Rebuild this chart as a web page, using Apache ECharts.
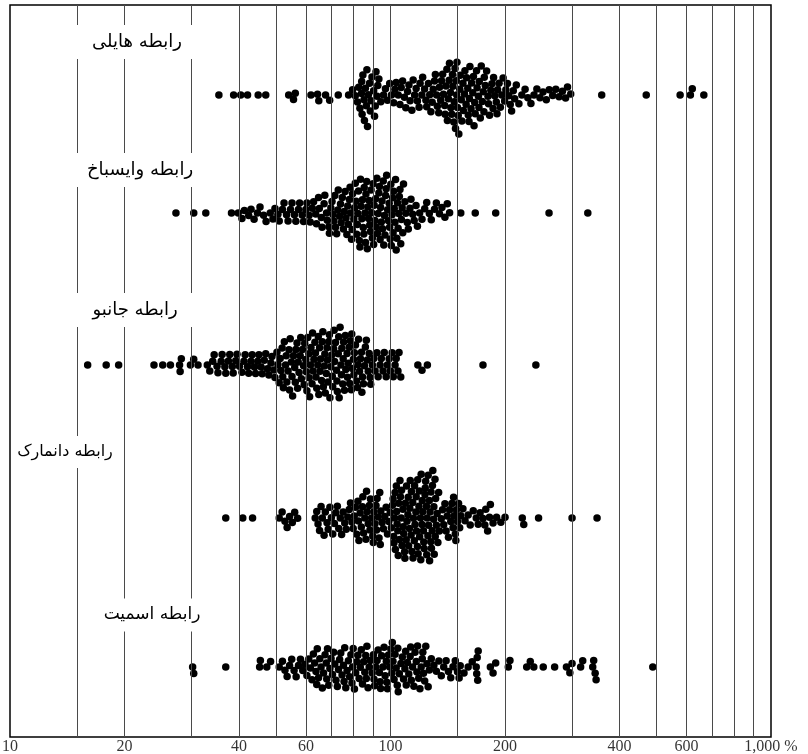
<!DOCTYPE html>
<html>
<head>
<meta charset="utf-8">
<script src="https://cdn.jsdelivr.net/npm/echarts@6/dist/echarts.min.js"></script>
<style>
html,body{margin:0;padding:0;background:#fff}
#chart{width:808px;height:754px}
</style>
</head>
<body>
<div id="chart"></div>
<script>
// Relation names, one per row (top to bottom)
const ROW_NAMES = ['رابطه هایلی', 'رابطه وایسباخ', 'رابطه جانبو', 'رابطه دانمارک', 'رابطه اسمیت'];

// Ratio values (%) for each relation
const HAILEY = [
  35.4, 38.7, 40.4, 42.1, 44.9, 47.0, 54.0, 55.6, 56.2,
  61.8, 64.3, 64.8, 67.5, 69.2,
  72.9, 77.6, 79.5, 80.8, 81.9,
  82.5, 83.1, 83.9, 84.0, 84.2, 84.6, 85.2, 85.4, 85.9, 86.4, 86.7, 87.0, 87.5, 88.1, 88.5, 88.9, 89.4, 90.3,
  90.8, 91.2, 91.6, 92.2, 92.6, 93.2,
  94.3, 95.9, 97.0, 98.2, 99.5, 100.6, 101.9, 102.7,
  103.5, 104.8, 105.9, 106.7, 107.6, 108.8, 109.7, 110.9, 111.8, 112.6, 113.8, 114.7,
  115.7, 116.8, 117.7, 118.9, 119.6, 120.9, 121.5, 122.9, 123.9, 124.5, 125.8, 126.8, 127.7, 128.7,
  129.5, 130.5, 131.2, 132.2, 132.8, 133.9, 134.5, 135.5, 136.2, 137.1, 137.8, 138.8,
  139.2, 139.9, 140.7, 141.1, 141.9, 142.6, 142.9, 143.8, 144.1, 144.9, 145.5, 145.9, 146.7, 147.0, 147.8, 148.2, 148.9, 149.3, 149.5, 150.0,
  150.7, 151.2, 152.1, 152.5, 153.5, 154.0, 155.0, 155.4, 156.5, 156.9, 158.0, 158.5, 159.6, 160.1, 160.8, 161.2, 161.7,
  162.8, 163.4, 164.5, 165.2, 165.8, 166.4, 167.0, 168.3, 168.9, 170.2, 170.8, 171.1, 172.2, 173.2, 174.3, 175.3, 176.0, 176.4, 177.5,
  178.9, 180.4, 181.0, 182.1, 183.5, 184.8, 186.0, 186.6, 187.9, 189.7, 190.5, 191.2, 192.9, 194.4, 196.1, 197.7, 199.5, 201.0, 202.9,
  204.6, 206.4, 208.1, 210.2, 212.0, 214.1,
  217.5, 221.4, 225.8, 229.6, 233.9, 238.3, 242.5, 247.1, 251.6, 256.7, 261.3, 266.8, 271.9, 277.4, 283.0, 288.5, 291.9, 297.6,
  359, 470, 577, 614, 621, 666
];

const WEISBACH = [
  27.3, 30.4, 32.7, 38.2,
  39.8, 40.7, 41.3, 42.4, 43.0, 43.8, 44.7, 45.4, 46.4, 47.1,
  48.3, 49.1, 49.7, 50.6, 51.0, 52.0, 52.5, 53.3, 53.8, 54.6, 55.1, 55.9, 56.4, 57.3, 57.7, 58.6, 59.1, 59.9, 60.3, 61.1, 61.5, 62.3,
  62.8, 63.6, 63.9, 64.7, 65.0, 65.8, 66.1, 66.9, 67.2, 67.9, 68.2, 68.9, 69.1, 69.7,
  70.2, 70.6, 71.0, 71.4, 71.7, 72.2, 72.7, 72.9, 73.5, 73.9, 74.2, 74.7, 75.2, 75.6, 76.0, 76.4, 76.8, 77.2, 77.5, 78.0,
  78.3, 78.6, 79.0, 79.3, 79.5, 80.1,
  80.5, 80.8, 81.2, 81.5, 81.8, 82.1, 82.4, 82.8, 83.1, 83.4, 83.7, 84.1, 84.4, 84.8, 85.1, 85.3, 85.7, 86.0, 86.2, 86.6,
  86.9, 87.2, 87.6, 87.9, 88.2, 88.6, 88.9,
  89.2, 89.6, 90.0, 90.3, 90.6, 91.0, 91.4, 91.7, 92.1, 92.4, 92.8, 93.2, 93.5, 93.9, 94.2, 94.6, 95.0, 95.3, 95.7, 96.0,
  96.4, 96.7, 97.1, 97.4, 97.7, 98.3,
  98.8, 99.2, 99.5, 99.8, 100.2, 100.5, 100.9, 101.3, 101.6, 101.9, 102.3, 102.7, 103.1, 103.5, 103.9, 104.3, 104.7,
  105.1, 105.5, 105.9, 106.4, 106.8, 107.3, 107.7,
  108.2, 109.1, 109.7, 110.7, 111.4, 112.5, 113.2, 114.4,
  115.4, 116.7, 117.7, 119.3,
  121.0, 123.0, 124.5, 126.5, 128.0, 130.5, 132.0, 134.5, 136.5, 139.0, 141.0, 143.0,
  153, 167, 189, 261, 330
];

const JANBU = [
  16.0, 17.9, 19.3,
  23.9, 25.2, 26.4, 27.9, 28.0, 28.2, 29.8, 30.4, 31.2,
  33.0, 33.5, 34.1, 34.4, 35.0, 35.2, 35.9, 36.1, 36.7, 36.9, 37.5, 37.8, 38.4, 38.6, 39.2, 39.5, 40.1,
  40.7, 41.2, 41.5, 42.1, 42.4, 43.0, 43.3, 43.9, 44.2, 44.8, 45.1, 45.7, 46.0, 46.6, 47.0, 47.5, 47.9, 48.5, 48.8,
  49.4, 49.7, 50.3, 50.6, 51.0, 51.3, 51.5,
  51.9, 52.1, 52.3, 52.6, 53.0, 53.2, 53.4, 53.8, 54.1, 54.3, 54.5, 54.9, 55.1, 55.3, 55.6, 56.0, 56.2, 56.4, 56.8,
  57.0, 57.2, 57.5, 57.9, 58.1, 58.3, 58.7, 59.1, 59.3, 59.5, 59.9, 60.1, 60.3, 60.6, 61.0, 61.1, 61.3, 61.6, 61.8,
  62.2, 62.4, 62.6, 62.9, 63.3, 63.5, 63.7, 64.0, 64.4, 64.6, 64.8, 65.1, 65.3, 65.5, 65.9, 66.2, 66.4, 66.6, 67.0,
  67.2, 67.4, 67.8, 68.1, 68.3, 68.5, 68.9, 69.1, 69.3, 69.7, 70.1, 70.3, 70.5, 70.9, 71.1, 71.3, 71.7, 72.1, 72.3,
  72.5, 72.9, 73.1, 73.3, 73.7, 74.1, 74.3, 74.5, 74.9, 75.1, 75.3, 75.7, 76.1, 76.3,
  76.9, 77.1, 77.4, 77.9, 78.1, 78.4, 78.9, 79.1, 79.4, 79.9, 80.1, 80.4, 80.9, 81.4, 81.9, 82.1, 82.4, 82.9, 83.4,
  83.9, 84.1, 84.4, 84.9, 85.4, 85.9, 86.4, 86.9, 87.4, 87.9, 88.4, 88.7,
  89.6, 90.4, 91.1, 92.1, 92.8, 93.9, 94.6, 95.6, 96.3, 97.4, 98.1, 99.2, 99.9, 101.0, 101.7, 102.8, 103.5, 104.6, 105.3, 106.4,
  118, 121, 125, 175, 241
];

const DANMARK = [
  36.9, 40.9, 43.4,
  51.0, 51.9, 52.8, 53.5, 54.3, 55.2, 56.0, 57.0,
  63.4, 64.0, 64.5, 65.1, 65.7, 66.2, 66.9, 67.4, 68.1, 68.6, 69.3, 69.9, 70.5, 71.2, 71.8, 72.5, 73.1, 73.8,
  74.4, 75.1, 75.8, 76.5, 77.2, 77.9, 78.5,
  79.2, 79.8, 80.3, 80.9, 81.5, 82.1, 82.4, 82.6, 83.2, 83.8, 84.4, 84.6, 85.0, 85.6, 86.2, 86.5, 86.8, 87.4, 88.0,
  88.3, 88.6, 89.2, 89.8, 90.1, 90.4, 91.0, 91.6, 91.9, 92.2, 92.8, 93.3, 93.7, 94.0, 94.3,
  95.0, 95.8, 96.6, 97.4, 98.2, 99.0, 99.8, 100.5,
  101.2, 101.6, 101.9, 102.1, 102.5, 102.8, 103.0, 103.6, 103.8, 104.1, 104.5, 104.8, 105.1, 105.6, 105.9, 106.2,
  106.7, 106.9, 107.2, 107.8, 108.0, 108.3, 108.9, 109.1, 109.4, 110.0, 110.2, 110.5, 111.1, 111.3, 111.6, 112.2,
  112.4, 112.7, 113.3, 113.5, 113.8, 114.4, 114.6, 114.9, 115.5, 115.7, 116.0, 116.6, 116.8, 117.1, 117.7, 117.9,
  118.2, 118.8, 119.0, 119.3, 119.9, 120.1, 120.4, 121.0, 121.2, 121.5, 122.1, 122.3, 122.6, 123.2, 123.4, 123.7,
  124.3, 124.5, 124.8, 125.4, 125.6, 125.9, 126.5, 126.7, 127.0, 127.6, 127.8, 128.1, 128.7, 128.9, 129.2, 129.8,
  130.0, 130.3, 130.9, 131.1, 131.4, 132.0, 132.6, 133.2, 133.8, 134.4,
  136, 137, 138, 139, 140, 141, 142, 143, 144, 145, 146, 146.5, 147, 148, 148.5, 149, 150, 151, 152, 153,
  155, 157, 160, 162, 165, 168, 170, 172, 175, 177, 178, 180, 182, 183, 186, 190, 195, 200,
  222, 224, 245, 300, 349
];

const SMITH = [
  30.2, 30.4, 36.9, 45.3, 45.5, 47.3, 48.4, 51.0,
  52.0, 52.8, 53.5, 54.3, 55.0, 55.8, 56.5, 57.3, 58.0, 58.8, 59.6, 60.3, 61.0, 61.6,
  62.2, 62.7, 63.2, 63.7, 64.0, 64.2, 64.7, 65.2, 65.7, 66.2, 66.7, 67.3, 67.8, 68.0, 68.3, 68.8, 69.3, 69.8,
  70.4, 70.9, 71.4, 71.9, 72.5, 73.0, 73.5, 74.0,
  74.6, 75.2, 75.5, 75.8, 76.3, 76.9, 77.5, 78.1, 78.7, 79.2, 79.5, 79.8, 80.4, 81.0, 81.5, 82.1, 82.7, 83.3, 83.8,
  84.4, 85.0, 85.6, 86.1, 86.4, 86.7, 87.3, 87.9, 88.5,
  89.5, 90.2, 90.5, 90.8, 91.5, 92.2, 92.8, 93.5, 93.9, 94.2, 94.8, 95.5, 96.2, 96.8, 97.5, 97.8, 98.2, 98.8, 99.5,
  100.2, 100.8, 101.1, 101.5, 102.2, 102.8, 103.5, 104.2, 104.5, 104.8, 105.5,
  106.5, 107.4, 108.2, 109.1, 109.6, 110.0, 110.8, 111.7, 112.6, 113.0, 113.4, 114.3, 115.2, 116.0, 116.9, 117.3,
  117.8, 118.6, 119.5, 120.4, 121.2, 121.6, 122.1, 123.0, 123.8, 124.7, 125.6, 126.5,
  128, 130, 132, 134, 136, 138, 140, 142, 144, 146, 148, 150, 151.5, 152.5,
  156, 160, 164, 168, 168.5, 169, 169.5, 170,
  183, 186, 189, 204, 206,
  228, 233, 238, 252, 270, 290, 296, 300, 316, 320, 340, 342, 345, 347, 489
];

// Axis labels and reference lines (%)
const TICK_VALUES = [10, 20, 40, 60, 100, 200, 400, 600, 1000];
const GRID_VALUES = [15, 20, 30, 40, 50, 60, 70, 80, 90, 100, 150, 200, 300, 400, 500, 600, 700, 800, 900];

// Layout: row centre lines on the hidden y axis (0 = top of plot, 732 = bottom)
const Y_MAX = 732;
const ROW_CENTER = [90, 208, 360, 513, 662];
const LABEL_POS = [[137, 42], [140, 170], [135, 310], [65, 452], [152, 615]];
const LABEL_PAD = [[8, 18], [8, 16], [8, 16], [8, 4], [8, 14]];
const LABEL_SIZE = [18, 18, 18, 16, 17];
const DOT_SIZE = 7.5;
const DOT_GAP = 6.6;

const chart = echarts.init(document.getElementById('chart'), null, { renderer: 'canvas' });

function tickText(v) {
  return v === 1000 ? '1,000 %' : String(v);
}

function baseSeries() {
  return [{
    type: 'scatter',
    name: 'axis',
    silent: true,
    clip: false,
    symbolSize: 1,
    itemStyle: { color: 'rgba(0,0,0,0)' },
    data: TICK_VALUES.map(v => [v, Y_MAX]),
    label: {
      show: true,
      position: 'bottom',
      distance: 1,
      formatter: p => tickText(p.value[0]),
      fontFamily: '"Liberation Serif", "DejaVu Serif", serif',
      fontSize: 16,
      color: '#000'
    },
    markLine: {
      silent: true,
      symbol: ['none', 'none'],
      label: { show: false },
      lineStyle: { color: '#4a4a4a', width: 1, type: 'solid' },
      data: GRID_VALUES.map(v => ({ xAxis: v }))
    }
  }];
}

chart.setOption({
  animation: false,
  backgroundColor: '#fff',
  grid: { left: 10, right: 37, top: 5, bottom: 17, show: true, borderColor: '#000', borderWidth: 1.5 },
  xAxis: {
    type: 'log', logBase: 10, min: 10, max: 1000,
    axisLine: { show: false }, axisTick: { show: false },
    axisLabel: { show: false }, splitLine: { show: false }
  },
  yAxis: { type: 'value', min: 0, max: Y_MAX, inverse: true, show: false },
  graphic: ROW_NAMES.map((name, i) => ({
    type: 'text',
    x: LABEL_POS[i][0],
    y: LABEL_POS[i][1],
    z: 100,
    silent: true,
    style: {
      text: name,
      font: LABEL_SIZE[i] + 'px "DejaVu Sans"',
      fill: '#000',
      textAlign: 'center', textVerticalAlign: 'middle',
      align: 'center', verticalAlign: 'middle',
      backgroundColor: '#fff',
      padding: LABEL_PAD[i]
    }
  })),
  series: baseSeries()
});

// Beeswarm layout: each dot keeps its x position and is moved vertically
// to the nearest free spot around the row centre line.
function swarmOffsets(xs, gap) {
  const order = xs.map((x, i) => i).sort((a, b) => xs[a] - xs[b]);
  const placed = [];
  const offs = new Array(xs.length).fill(0);
  order.forEach((i, k) => {
    const x = xs[i];
    const near = placed.filter(p => Math.abs(p.x - x) < gap);
    const cands = [0];
    near.forEach(p => {
      const dy = Math.sqrt(gap * gap - (p.x - x) * (p.x - x));
      cands.push(p.y + dy, p.y - dy);
    });
    const sign = k % 2 ? 1 : -1;
    cands.sort((a, b) => (Math.abs(a) - Math.abs(b)) || (sign * (b - a)));
    let y = 0;
    for (const c of cands) {
      if (near.every(p => (p.x - x) * (p.x - x) + (p.y - c) * (p.y - c) >= gap * gap - 1e-6)) { y = c; break; }
    }
    placed.push({ x, y });
    offs[i] = y;
  });
  return offs;
}

const ROWS = [HAILEY, WEISBACH, JANBU, DANMARK, SMITH];
const dotSeries = ROWS.map((vals, r) => {
  const cy = chart.convertToPixel({ yAxisIndex: 0 }, ROW_CENTER[r]);
  const xs = vals.map(v => chart.convertToPixel({ xAxisIndex: 0 }, v));
  const offs = swarmOffsets(xs, DOT_GAP);
  return {
    type: 'scatter',
    name: ROW_NAMES[r],
    silent: true,
    symbolSize: DOT_SIZE,
    itemStyle: { color: '#000', opacity: 1 },
    data: vals.map((v, i) => [v, chart.convertFromPixel({ yAxisIndex: 0 }, cy + offs[i])])
  };
});

chart.setOption({ series: baseSeries().concat(dotSeries) });
</script>
</body>
</html>
